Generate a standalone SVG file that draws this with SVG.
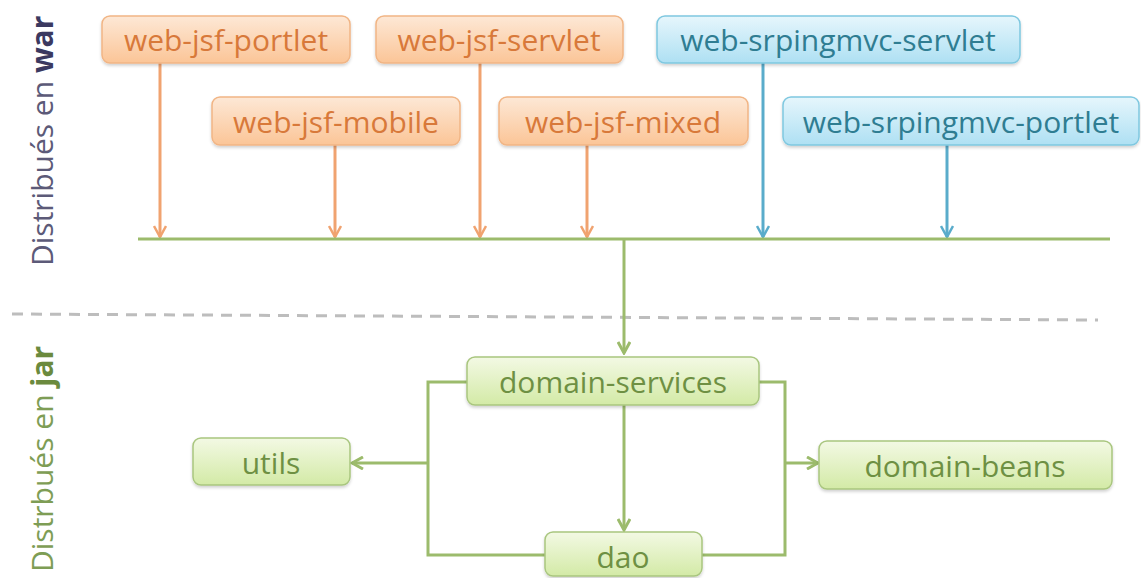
<svg xmlns="http://www.w3.org/2000/svg" width="1141" height="578" viewBox="0 0 1141 578">
<defs>
<linearGradient id="gO" x1="0" y1="0" x2="0" y2="1"><stop offset="0" stop-color="#fde8d6"/><stop offset="1" stop-color="#fbc597"/></linearGradient>
<linearGradient id="gB" x1="0" y1="0" x2="0" y2="1"><stop offset="0" stop-color="#e6f6fc"/><stop offset="1" stop-color="#aee0f3"/></linearGradient>
<linearGradient id="gG" x1="0" y1="0" x2="0" y2="1"><stop offset="0" stop-color="#f3f9e4"/><stop offset="1" stop-color="#d3eaa6"/></linearGradient>
<filter id="sh" x="-10%" y="-20%" width="120%" height="150%"><feDropShadow dx="0" dy="2" stdDeviation="1.5" flood-color="#000" flood-opacity="0.18"/></filter>
<marker id="aO" viewBox="0 0 14 14" refX="12" refY="7" markerWidth="14" markerHeight="14" markerUnits="userSpaceOnUse" orient="auto"><path d="M1,1 L12,7 L1,13" fill="none" stroke="#f0a370" stroke-width="2.5"/></marker>
<marker id="aB" viewBox="0 0 14 14" refX="12" refY="7" markerWidth="14" markerHeight="14" markerUnits="userSpaceOnUse" orient="auto"><path d="M1,1 L12,7 L1,13" fill="none" stroke="#5aaccb" stroke-width="2.5"/></marker>
<marker id="aG" viewBox="0 0 14 14" refX="12" refY="7" markerWidth="14" markerHeight="14" markerUnits="userSpaceOnUse" orient="auto"><path d="M1,1 L12,7 L1,13" fill="none" stroke="#9cbb6c" stroke-width="3"/></marker>
</defs>
<style>
.t{font-family:"Open Sans","Liberation Sans",sans-serif;font-size:30px;text-anchor:middle;dominant-baseline:central}
.o rect{fill:url(#gO);stroke:#f1b585;stroke-width:1.5;filter:url(#sh)}
.o text{fill:#d8793a}
.b rect{fill:url(#gB);stroke:#7fc8e0;stroke-width:1.5;filter:url(#sh)}
.b text{fill:#2f7d92}
.g rect{fill:url(#gG);stroke:#a9c67f;stroke-width:1.5;filter:url(#sh)}
.g text{fill:#6e9043}
.co{stroke:#f0a370;stroke-width:3;fill:none;marker-end:url(#aO)}
.cb{stroke:#5aaccb;stroke-width:3;fill:none;marker-end:url(#aB)}
.cg{stroke:#9cbb6c;stroke-width:3;fill:none}
.side{font-family:"Open Sans","Liberation Sans",sans-serif;font-size:30px}
</style>
<rect width="1141" height="578" fill="#ffffff"/>

<text class="side" transform="translate(53,266) rotate(-90)" fill="#5c5a78">Distribués en <tspan font-weight="bold" fill="#3b3960">war</tspan></text>
<text class="side" transform="translate(53,572) rotate(-90)" fill="#7e9d55">Distrbués en <tspan font-weight="bold" fill="#6b8a3e">jar</tspan></text>

<line x1="12" y1="314" x2="1098" y2="320" stroke="#bdbdbd" stroke-width="3" stroke-dasharray="11,8"/>

<g id="connectors">
<line class="co" x1="160" y1="63" x2="160" y2="237"/>
<line class="co" x1="335" y1="145" x2="335" y2="237"/>
<line class="co" x1="480" y1="63" x2="480" y2="237"/>
<line class="co" x1="587" y1="145" x2="587" y2="237"/>
<line class="cb" x1="763" y1="63" x2="763" y2="237"/>
<line class="cb" x1="947" y1="145" x2="947" y2="237"/>
<line class="cg" x1="138" y1="239" x2="1110" y2="239"/>
<line class="cg" x1="624" y1="239" x2="624" y2="353" marker-end="url(#aG)"/>
<line class="cg" x1="624" y1="405" x2="624" y2="530" marker-end="url(#aG)"/>
<polyline class="cg" points="467,382 428,382 428,555 545,555"/>
<line class="cg" x1="428" y1="463" x2="352" y2="463" marker-end="url(#aG)"/>
<polyline class="cg" points="759,382 785,382 785,555 702,555"/>
<line class="cg" x1="785" y1="463" x2="818" y2="463" marker-end="url(#aG)"/>
</g>

<g id="web-jsf-portlet" class="o"><rect x="102" y="16" width="248" height="47" rx="8"/><text class="t" x="226" y="39">web-jsf-portlet</text></g>
<g id="web-jsf-servlet" class="o"><rect x="376" y="16" width="247" height="47" rx="8"/><text class="t" x="499" y="39">web-jsf-servlet</text></g>
<g id="web-srpingmvc-servlet" class="b"><rect x="657" y="16" width="363" height="47" rx="8"/><text class="t" x="838" y="39">web-srpingmvc-servlet</text></g>
<g id="web-jsf-mobile" class="o"><rect x="212" y="97" width="248" height="48" rx="8"/><text class="t" x="336" y="121">web-jsf-mobile</text></g>
<g id="web-jsf-mixed" class="o"><rect x="499" y="97" width="249" height="48" rx="8"/><text class="t" x="623" y="121">web-jsf-mixed</text></g>
<g id="web-srpingmvc-portlet" class="b"><rect x="783" y="97" width="356" height="48" rx="8"/><text class="t" x="961" y="121">web-srpingmvc-portlet</text></g>

<g id="domain-services" class="g"><rect x="467" y="357" width="292" height="48" rx="8"/><text class="t" x="613" y="381">domain-services</text></g>
<g id="utils" class="g"><rect x="193" y="438" width="157" height="47" rx="8"/><text class="t" x="271" y="462">utils</text></g>
<g id="domain-beans" class="g"><rect x="819" y="441" width="293" height="48" rx="8"/><text class="t" x="965" y="465">domain-beans</text></g>
<g id="dao" class="g"><rect x="545" y="532" width="157" height="44" rx="8"/><text class="t" x="623" y="556">dao</text></g>
</svg>
